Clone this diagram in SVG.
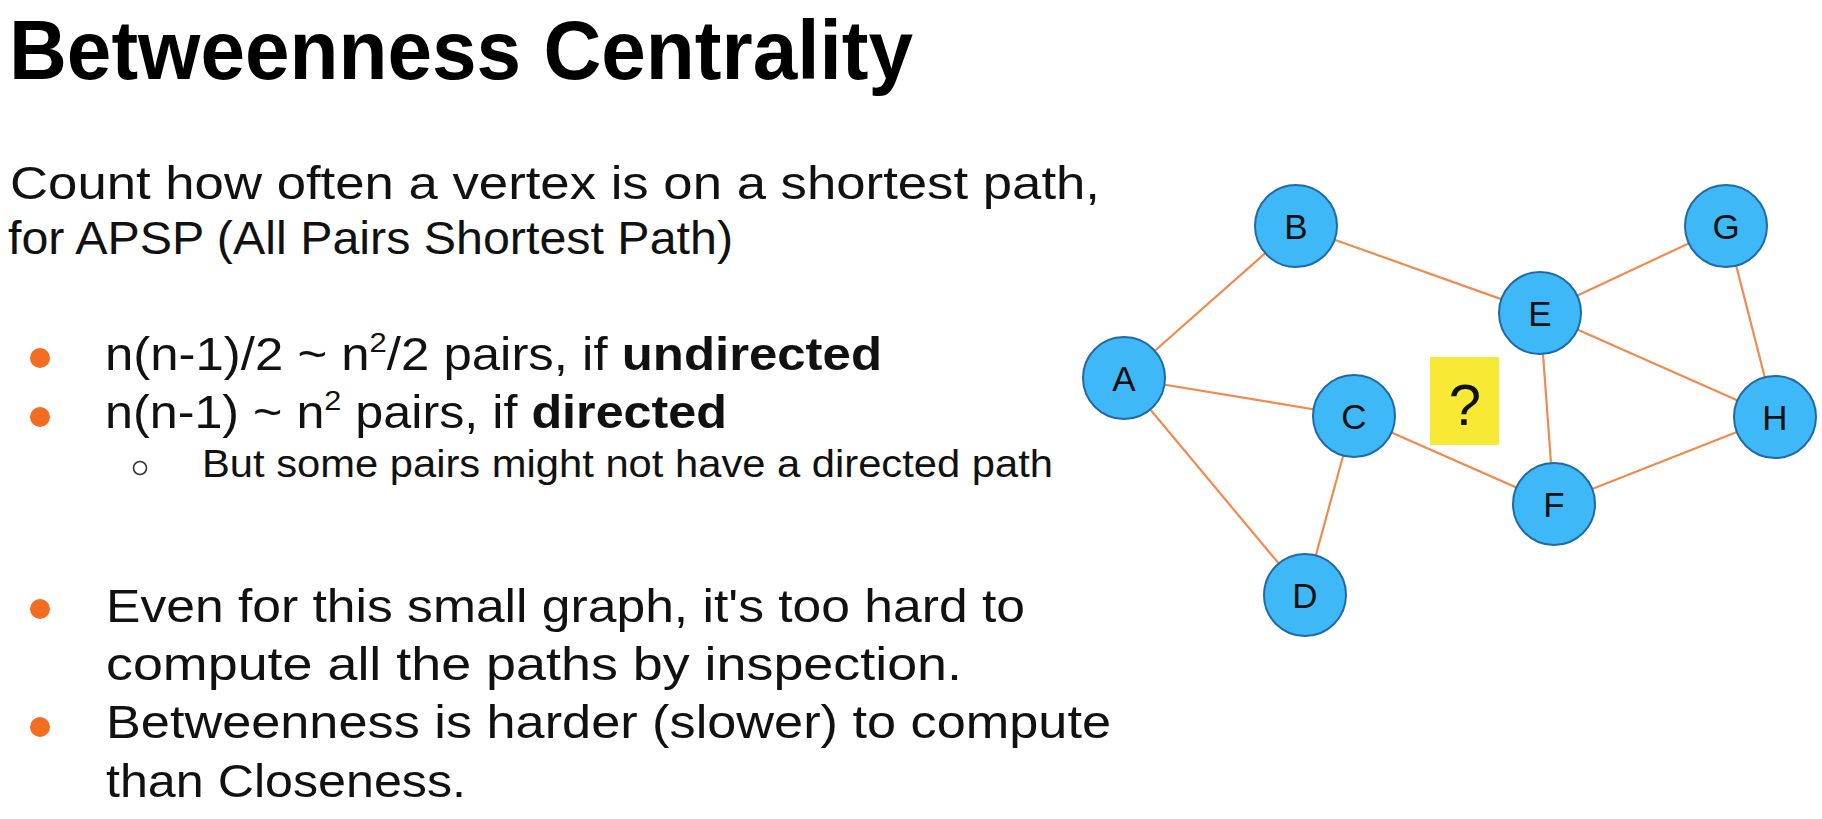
<svg xmlns="http://www.w3.org/2000/svg" width="1822" height="819" viewBox="0 0 1822 819">
<style>
.t{font-family:"Liberation Sans",Arial,sans-serif;fill:#111;}
.main{font-size:46px;}
.sub{font-size:38px;}
.b{font-weight:bold;}
.sup{font-size:28px;}
.dot{fill:#f26c22;}
.edge{stroke:#f08a4e;stroke-width:2.2;fill:none;}
.node{fill:#3fb8f7;stroke:#1f6aa6;stroke-width:2;}
.lbl{font-family:"Liberation Sans",Arial,sans-serif;font-size:35px;fill:#111;text-anchor:middle;}
</style>
<rect width="1822" height="819" fill="#ffffff"/>
<g id="title">
<text class="t b" x="9" y="79" style="font-size:84px;fill:#000" textLength="904" lengthAdjust="spacingAndGlyphs">Betweenness Centrality</text>
</g>
<g id="text">
<text class="t main" x="10" y="199" textLength="1090" lengthAdjust="spacingAndGlyphs">Count how often a vertex is on a shortest path,</text>
<text class="t main" x="8" y="254" textLength="725" lengthAdjust="spacingAndGlyphs">for APSP (All Pairs Shortest Path)</text>
<circle class="dot" cx="40" cy="358" r="10"/>
<text class="t main" x="105" y="370" textLength="777" lengthAdjust="spacingAndGlyphs">n(n-1)/2 ~ n<tspan class="sup" dy="-18">2</tspan><tspan dy="18">/2 pairs, if </tspan><tspan class="b">undirected</tspan></text>
<circle class="dot" cx="40" cy="417" r="10"/>
<text class="t main" x="105" y="428" textLength="622" lengthAdjust="spacingAndGlyphs">n(n-1) ~ n<tspan class="sup" dy="-18">2</tspan><tspan dy="18"> pairs, if </tspan><tspan class="b">directed</tspan></text>
<circle cx="140" cy="468" r="6.5" fill="none" stroke="#333" stroke-width="1.6"/>
<text class="t sub" x="202" y="477" textLength="851" lengthAdjust="spacingAndGlyphs">But some pairs might not have a directed path</text>
<circle class="dot" cx="40" cy="609" r="10"/>
<text class="t main" x="106" y="622" textLength="919" lengthAdjust="spacingAndGlyphs">Even for this small graph, it's too hard to</text>
<text class="t main" x="106" y="680" textLength="856" lengthAdjust="spacingAndGlyphs">compute all the paths by inspection.</text>
<circle class="dot" cx="40" cy="727" r="10"/>
<text class="t main" x="106" y="738" textLength="1005" lengthAdjust="spacingAndGlyphs">Betweenness is harder (slower) to compute</text>
<text class="t main" x="106" y="797" textLength="360" lengthAdjust="spacingAndGlyphs">than Closeness.</text>
</g>
<g id="connectors">
<line class="edge" x1="1124" y1="378" x2="1296" y2="226"/>
<line class="edge" x1="1124" y1="378" x2="1354" y2="416"/>
<line class="edge" x1="1124" y1="378" x2="1305" y2="595"/>
<line class="edge" x1="1296" y1="226" x2="1540" y2="313"/>
<line class="edge" x1="1354" y1="416" x2="1305" y2="595"/>
<line class="edge" x1="1354" y1="416" x2="1554" y2="504"/>
<line class="edge" x1="1540" y1="313" x2="1726" y2="226"/>
<line class="edge" x1="1540" y1="313" x2="1554" y2="504"/>
<line class="edge" x1="1540" y1="313" x2="1775" y2="417"/>
<line class="edge" x1="1726" y1="226" x2="1775" y2="417"/>
<line class="edge" x1="1554" y1="504" x2="1775" y2="417"/>
</g>
<g id="question">
<rect x="1430" y="357" width="69" height="88" fill="#f8ea34"/>
<text class="lbl" x="1465" y="425" style="font-size:58px">?</text>
</g>
<g id="node-A"><circle class="node" cx="1124" cy="378" r="41"/><text class="lbl" x="1124" y="390.5">A</text></g>
<g id="node-B"><circle class="node" cx="1296" cy="226" r="41"/><text class="lbl" x="1296" y="238.5">B</text></g>
<g id="node-C"><circle class="node" cx="1354" cy="416" r="41"/><text class="lbl" x="1354" y="428.5">C</text></g>
<g id="node-D"><circle class="node" cx="1305" cy="595" r="41"/><text class="lbl" x="1305" y="607.5">D</text></g>
<g id="node-E"><circle class="node" cx="1540" cy="313" r="41"/><text class="lbl" x="1540" y="325.5">E</text></g>
<g id="node-F"><circle class="node" cx="1554" cy="504" r="41"/><text class="lbl" x="1554" y="516.5">F</text></g>
<g id="node-G"><circle class="node" cx="1726" cy="226" r="41"/><text class="lbl" x="1726" y="238.5">G</text></g>
<g id="node-H"><circle class="node" cx="1775" cy="417" r="41"/><text class="lbl" x="1775" y="429.5">H</text></g>
</svg>
